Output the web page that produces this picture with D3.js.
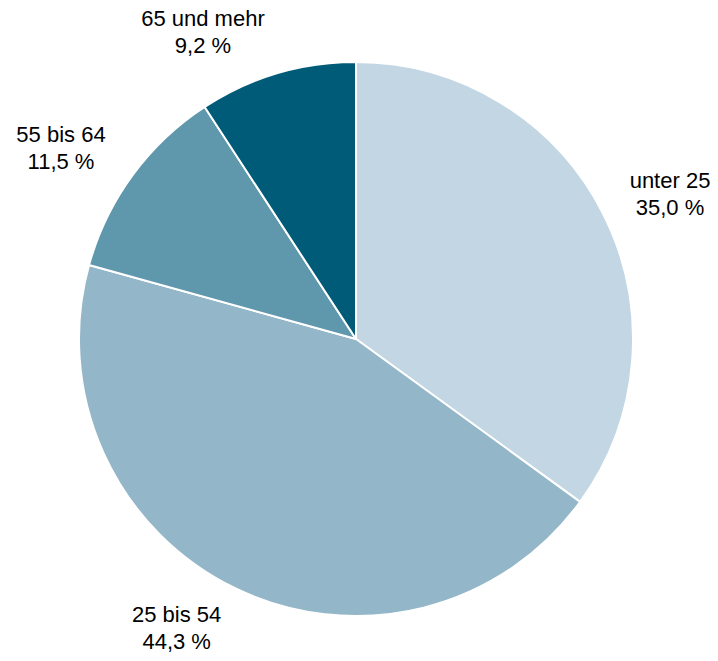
<!DOCTYPE html>
<html>
<head>
<meta charset="utf-8">
<script src="https://cdn.jsdelivr.net/npm/d3@7"></script>
<style>
html,body{margin:0;padding:0;background:#fff;}
text{font-family:"Liberation Sans",Arial,sans-serif;font-size:22px;fill:#000;}
</style>
</head>
<body>
<svg id="chart" width="718" height="661"></svg>
<script>
const categories = ["unter 25", "25 bis 54", "55 bis 64", "65 und mehr"];
const values = [35.0, 44.3, 11.5, 9.2];
const valueLabels = ["35,0 %", "44,3 %", "11,5 %", "9,2 %"];
const colors = ["#c2d6e3", "#93b6c8", "#5f98ad", "#005b79"];
// label placement: angle (deg from top, clockwise) and radius
const labelLayout = [{a: 66.35, r: 342.8}, {a: 211.2, r: 346.2}, {a: 301.95, r: 347.7}, {a: 332.9, r: 335.9}];

const svg = d3.select("#chart");
const cx = 356, cy = 339, R = 277;
const g = svg.append("g").attr("transform", `translate(${cx},${cy})`);

const data = categories.map((c, i) => ({cat: c, value: values[i], label: valueLabels[i], color: colors[i], i}));
const pie = d3.pie().sort(null).value(d => d.value);
const arc = d3.arc().innerRadius(0).outerRadius(R);
const arcs = pie(data);

g.selectAll("path").data(arcs).join("path")
  .attr("d", arc)
  .attr("fill", d => d.data.color)
  .attr("stroke", "#fff")
  .attr("stroke-width", 2)
  .attr("stroke-linejoin", "round");

const lab = g.selectAll("g.lab").data(arcs).join("g").attr("class", "lab")
  .attr("transform", d => {
    const L = labelLayout[d.data.i];
    const a = L.a * Math.PI / 180;
    return `translate(${L.r * Math.sin(a)},${-L.r * Math.cos(a)})`;
  });
lab.append("text").attr("text-anchor", "middle").attr("y", -13.5).text(d => d.data.cat);
lab.append("text").attr("text-anchor", "middle").attr("y", 13.5).text(d => d.data.label);
</script>
</body>
</html>
